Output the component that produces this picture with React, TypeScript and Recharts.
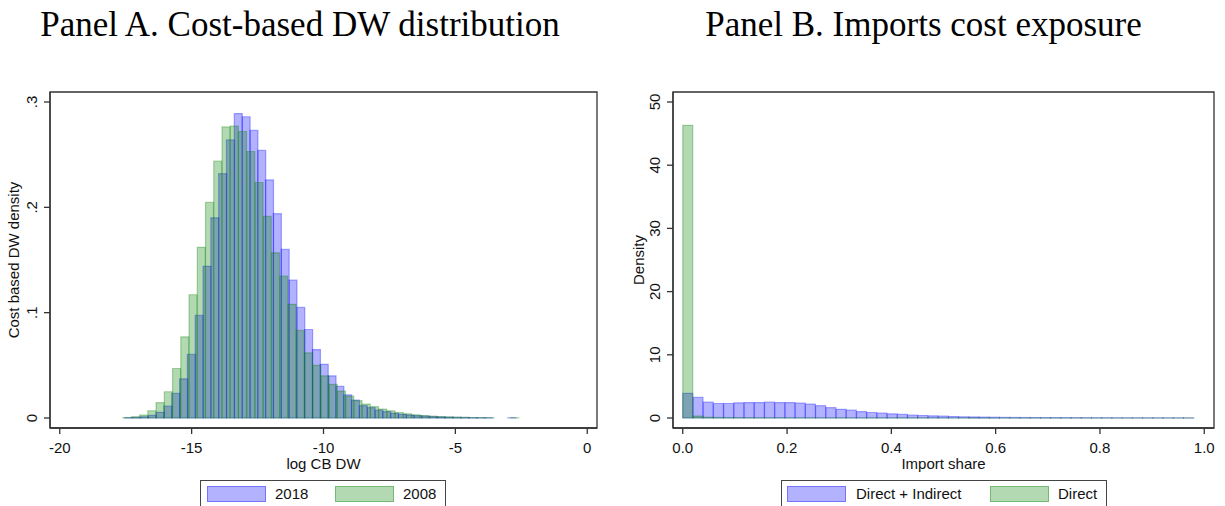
import React from 'react';
import { BarChart, Bar, XAxis, YAxis, Legend, ReferenceArea } from 'recharts';

// Panel A: log cost-based DW, 2018 (50 bins) and 2008 (48 bins + 2 empty)
const cbBins2018 = [
  -17.382, -17.086, -16.789, -16.493, -16.197, -15.901, -15.604, -15.308, -15.012, -14.716,
  -14.42, -14.123, -13.827, -13.531, -13.235, -12.938, -12.642, -12.346, -12.05, -11.753,
  -11.457, -11.161, -10.865, -10.568, -10.272, -9.976, -9.68, -9.383, -9.087, -8.791,
  -8.495, -8.198, -7.902, -7.606, -7.31, -7.013, -6.717, -6.421, -6.125, -5.828,
  -5.532, -5.236, -4.94, -4.643, -4.347, -4.051, -3.755, -3.458, -3.162, -2.866,
];
const cbDensity2018 = [
  0.0003, 0.0006, 0.0012, 0.0025, 0.0054, 0.0114, 0.0233, 0.0372, 0.0605, 0.0974,
  0.144, 0.19, 0.232, 0.264, 0.289, 0.286, 0.273, 0.254, 0.226, 0.194,
  0.16, 0.131, 0.105, 0.084, 0.065, 0.051, 0.04, 0.03, 0.022, 0.017,
  0.0117, 0.0098, 0.0076, 0.006, 0.0044, 0.0035, 0.0028, 0.0022, 0.0017, 0.0013,
  0.001, 0.0008, 0.0006, 0.0005, 0.0004, 0.0003, 0.0002, 0, 0, 0.0002,
];
const cbBins2008 = [
  -17.444, -17.131, -16.818, -16.506, -16.193, -15.88, -15.567, -15.255, -14.942, -14.629,
  -14.317, -14.004, -13.691, -13.378, -13.066, -12.753, -12.44, -12.128, -11.815, -11.502,
  -11.19, -10.877, -10.564, -10.251, -9.939, -9.626, -9.313, -9.001, -8.688, -8.375,
  -8.063, -7.75, -7.437, -7.124, -6.812, -6.499, -6.186, -5.874, -5.561, -5.248,
  -4.936, -4.623, -4.31, -3.997, -3.685, -3.372, -3.059, -2.747, -2.434, -2.121,
];
const cbDensity2008 = [
  0.0004, 0.0012, 0.0028, 0.0069, 0.0145, 0.0249, 0.047, 0.077, 0.117, 0.162,
  0.2047, 0.2438, 0.2763, 0.2772, 0.272, 0.253, 0.2236, 0.1914, 0.1568, 0.1346,
  0.1079, 0.0833, 0.0618, 0.05, 0.04, 0.0319, 0.0255, 0.0208, 0.0164, 0.0132,
  0.0107, 0.0085, 0.0068, 0.0052, 0.004, 0.003, 0.0023, 0.0017, 0.0013, 0.001,
  0.0008, 0.0006, 0.0004, 0.0003, 0.0002, 0, 0, 0.0002, 0, 0,
];
const cbTicksX = [-20, -15, -10, -5, 0];
const cbTicksY = [0, 0.1, 0.2, 0.3];
const cbDomainX = [-20.37, 0.37];
const cbDomainY = [-0.0095, 0.3095];

// Panel B: import share, 50 bins of width 0.0196
const shareBins = [
  0.0098, 0.0294, 0.049, 0.0686, 0.0882, 0.1078, 0.1274, 0.147, 0.1666, 0.1862,
  0.2058, 0.2254, 0.245, 0.2646, 0.2842, 0.3038, 0.3234, 0.343, 0.3626, 0.3822,
  0.4018, 0.4214, 0.441, 0.4606, 0.4802, 0.4998, 0.5194, 0.539, 0.5586, 0.5782,
  0.5978, 0.6174, 0.637, 0.6566, 0.6762, 0.6958, 0.7154, 0.735, 0.7546, 0.7742,
  0.7938, 0.8134, 0.833, 0.8526, 0.8722, 0.8918, 0.9114, 0.931, 0.9506, 0.9702,
];
const shareDirectIndirect = [
  3.9, 3.25, 2.5, 2.3, 2.3, 2.4, 2.45, 2.45, 2.5, 2.45,
  2.45, 2.35, 2.2, 1.95, 1.65, 1.38, 1.24, 1.02, 0.87, 0.76,
  0.66, 0.56, 0.48, 0.4, 0.34, 0.29, 0.24, 0.2, 0.17, 0.14,
  0.12, 0.1, 0.09, 0.08, 0.07, 0.065, 0.06, 0.055, 0.05, 0.045,
  0.04, 0.04, 0.035, 0.03, 0.03, 0.025, 0.025, 0.02, 0.02, 0.02,
];
const shareDirect = [
  46.3, 0.3, 0.12, 0.08, 0.06, 0.05, 0.04, 0.035, 0.03, 0.03,
  0.025, 0.02, 0.02, 0.02, 0.015, 0.015, 0.015, 0.012, 0.012, 0.012,
  0.01, 0.01, 0.01, 0.01, 0.01, 0.01, 0.01, 0.01, 0.01, 0.01,
  0.008, 0.008, 0.008, 0.008, 0.008, 0.008, 0.006, 0.006, 0.006, 0.006,
  0.006, 0.006, 0.005, 0.005, 0.005, 0.005, 0.005, 0.005, 0.005, 0.005,
];
const shareTicksX = [0, 0.2, 0.4, 0.6, 0.8, 1];
const shareTicksY = [0, 10, 20, 30, 40, 50];
const shareDomainX = [-0.0187, 1.0187];
const shareDomainY = [-1.58, 51.58];

const panelAData = cbBins2018.map((x, i) => ({
  x18: x,
  d18: cbDensity2018[i],
  x08: cbBins2008[i],
  d08: cbDensity2008[i],
}));

const panelBData = shareBins.map((x, i) => ({
  x,
  di: shareDirectIndirect[i],
  d: shareDirect[i],
}));

const SANS = '"Liberation Sans", Arial, sans-serif';
const AXIS = '#333';
const BLUE = '#0000ff';
const GREEN = '#008000';

const RotatedTick = (props: any) => {
  const { x, y, payload, fmt } = props;
  return (
    <text
      x={x}
      y={y}
      transform={`rotate(-90 ${x} ${y})`}
      textAnchor="middle"
      fontSize={15}
      fontFamily={SANS}
      fill="#111"
    >
      {fmt(payload.value)}
    </text>
  );
};

const XTitle = (props: any) => {
  const { viewBox, value } = props;
  return (
    <text
      x={viewBox.x + viewBox.width / 2}
      y={viewBox.y + 41}
      textAnchor="middle"
      fontSize={15}
      fontFamily={SANS}
      fill="#111"
    >
      {value}
    </text>
  );
};

const YTitle = (props: any) => {
  const { viewBox, value, at } = props;
  const cy = viewBox.y + viewBox.height / 2;
  return (
    <text
      x={at}
      y={cy}
      transform={`rotate(-90 ${at} ${cy})`}
      textAnchor="middle"
      fontSize={15}
      fontFamily={SANS}
      fill="#111"
    >
      {value}
    </text>
  );
};

const LegendBox = (props: any) => {
  const { payload, boxW, spots, order } = props;
  const items = order
    .map((name: string) => (payload || []).find((p: any) => p.value === name))
    .filter(Boolean);
  return (
    <div style={{ position: 'relative', width: boxW, height: 26 }}>
      <div
        style={{
          position: 'absolute',
          left: 0,
          top: 0,
          width: boxW - 2,
          height: 34,
          border: '1px solid #444',
          background: '#fff',
        }}
      />
      {items.map((item: any, i: number) => {
        const isBlue = item.color === BLUE;
        return (
          <React.Fragment key={item.value}>
            <div
              style={{
                position: 'absolute',
                left: spots[i][0],
                top: 6,
                width: 57,
                height: 14,
                background: isBlue ? 'rgba(0,0,255,0.3)' : 'rgba(0,128,0,0.3)',
                border: `1px solid ${isBlue ? 'rgba(0,0,255,0.35)' : 'rgba(0,128,0,0.35)'}`,
              }}
            />
            <div
              style={{
                position: 'absolute',
                left: spots[i][1],
                top: 5,
                fontFamily: SANS,
                fontSize: 15,
                lineHeight: '18px',
                color: '#111',
                whiteSpace: 'nowrap',
              }}
            >
              {item.value}
            </div>
          </React.Fragment>
        );
      })}
    </div>
  );
};

const fmtA = (v: number) => (v === 0 ? '0' : String(v).replace('0.', '.'));
const fmtB = (v: number) => String(v);

const titleStyle: React.CSSProperties = {
  position: 'absolute',
  top: 5,
  fontFamily: '"Liberation Serif", "Times New Roman", serif',
  fontSize: 35,
  color: '#000',
  textAlign: 'center',
  whiteSpace: 'nowrap',
};

export default function App() {
  return (
    <div style={{ position: 'absolute', left: 0, top: 0, width: 1225, height: 506, background: '#fff', overflow: 'hidden' }}>
      <div style={{ ...titleStyle, left: 0, width: 600 }}>Panel A. Cost-based DW distribution</div>
      <div style={{ ...titleStyle, left: 622, width: 603 }}>Panel B. Imports cost exposure</div>

      <div style={{ position: 'absolute', left: 0, top: 0 }}>
        <BarChart
          width={610}
          height={506}
          data={panelAData}
          margin={{ top: 92, right: 13, left: 0, bottom: 0 }}
          barCategoryGap={0}
          barGap={0}
        >
          <XAxis
            xAxisId="a"
            dataKey="x18"
            type="number"
            domain={cbDomainX}
            allowDataOverflow
            ticks={cbTicksX}
            interval={0}
            height={52}
            tickSize={6}
            tickMargin={8}
            stroke={AXIS}
            strokeWidth={1.3}
            tick={{ fontSize: 15, fontFamily: SANS, fill: '#111' }}
            label={<XTitle value="log CB DW" />}
          />
          <XAxis xAxisId="b" dataKey="x08" type="number" domain={cbDomainX} allowDataOverflow hide />
          <YAxis
            type="number"
            domain={cbDomainY}
            allowDataOverflow
            ticks={cbTicksY}
            interval={0}
            width={50}
            tickSize={6}
            tickMargin={7}
            stroke={AXIS}
            strokeWidth={1.3}
            tick={<RotatedTick fmt={fmtA} />}
            label={<YTitle value="Cost based DW density" at={19} />}
          />
          <ReferenceArea
            xAxisId="a"
            x1={cbDomainX[0]}
            x2={cbDomainX[1]}
            y1={cbDomainY[0]}
            y2={cbDomainY[1]}
            fill="none"
            stroke={AXIS}
            strokeWidth={1.3}
            ifOverflow="visible"
          />
          <Bar
            xAxisId="a"
            dataKey="d18"
            name="2018"
            fill={BLUE}
            fillOpacity={0.3}
            stroke={BLUE}
            strokeOpacity={0.32}
            strokeWidth={1.2}
            isAnimationActive={false}
          />
          <Bar
            xAxisId="b"
            dataKey="d08"
            name="2008"
            fill={GREEN}
            fillOpacity={0.3}
            stroke={GREEN}
            strokeOpacity={0.32}
            strokeWidth={1.2}
            isAnimationActive={false}
          />
          <Legend
            verticalAlign="bottom"
            wrapperStyle={{ left: 200, top: 480, bottom: 'auto', width: 246, height: 26 }}
            content={<LegendBox boxW={246} order={['2018', '2008']} spots={[[7, 75], [135, 203]]} />}
          />
        </BarChart>
      </div>

      <div style={{ position: 'absolute', left: 610, top: 0 }}>
        <BarChart
          width={615}
          height={506}
          data={panelBData}
          margin={{ top: 92, right: 11, left: 0, bottom: 0 }}
          barCategoryGap={0}
          barGap={0}
        >
          <XAxis
            xAxisId="a"
            dataKey="x"
            type="number"
            domain={shareDomainX}
            allowDataOverflow
            ticks={shareTicksX}
            interval={0}
            height={52}
            tickSize={6}
            tickMargin={8}
            stroke={AXIS}
            strokeWidth={1.3}
            tickFormatter={(v: number) => v.toFixed(1)}
            tick={{ fontSize: 15, fontFamily: SANS, fill: '#111' }}
            label={<XTitle value="Import share" />}
          />
          <XAxis xAxisId="b" dataKey="x" type="number" domain={shareDomainX} allowDataOverflow hide />
          <YAxis
            type="number"
            domain={shareDomainY}
            allowDataOverflow
            ticks={shareTicksY}
            interval={0}
            width={63}
            tickSize={6}
            tickMargin={7}
            stroke={AXIS}
            strokeWidth={1.3}
            tick={<RotatedTick fmt={fmtB} />}
            label={<YTitle value="Density" at={34} />}
          />
          <ReferenceArea
            xAxisId="a"
            x1={shareDomainX[0]}
            x2={shareDomainX[1]}
            y1={shareDomainY[0]}
            y2={shareDomainY[1]}
            fill="none"
            stroke={AXIS}
            strokeWidth={1.3}
            ifOverflow="visible"
          />
          <Bar
            xAxisId="a"
            dataKey="di"
            name="Direct + Indirect"
            fill={BLUE}
            fillOpacity={0.3}
            stroke={BLUE}
            strokeOpacity={0.32}
            strokeWidth={1.2}
            isAnimationActive={false}
          />
          <Bar
            xAxisId="b"
            dataKey="d"
            name="Direct"
            fill={GREEN}
            fillOpacity={0.3}
            stroke={GREEN}
            strokeOpacity={0.32}
            strokeWidth={1.2}
            isAnimationActive={false}
          />
          <Legend
            verticalAlign="bottom"
            wrapperStyle={{ left: 171, top: 480, bottom: 'auto', width: 326, height: 26 }}
            content={<LegendBox boxW={326} order={['Direct + Indirect', 'Direct']} spots={[[6, 75], [209, 277]]} />}
          />
        </BarChart>
      </div>
    </div>
  );
}
